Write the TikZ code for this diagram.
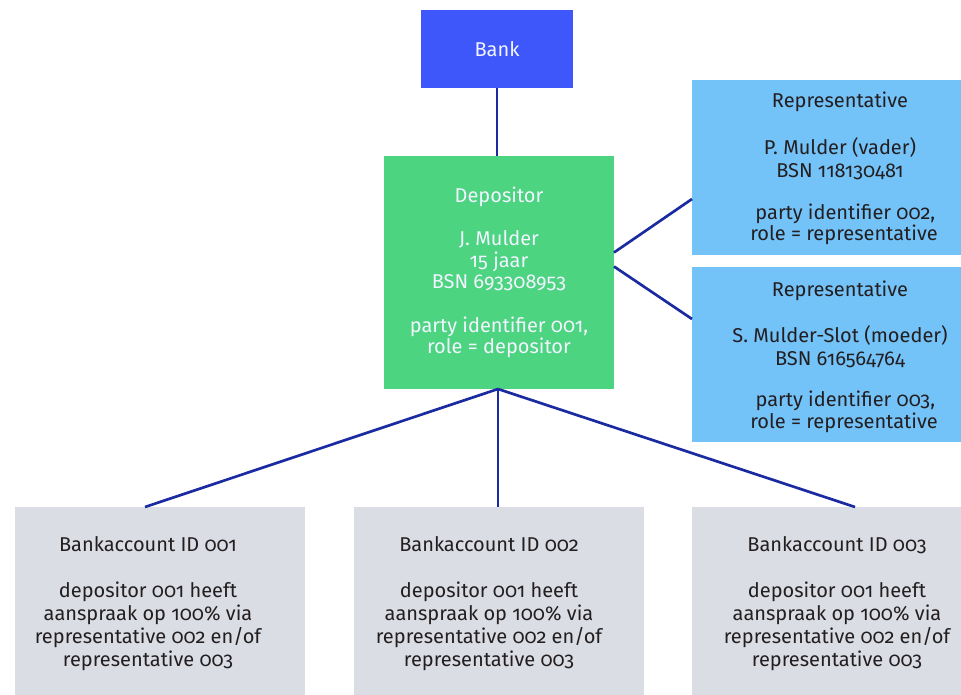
\documentclass[tikz,border=0pt]{standalone}
\usepackage{fontspec}
\setmainfont{Fira Sans}[Numbers=OldStyle]
\usetikzlibrary{calc}
\definecolor{bankblue}{HTML}{3D57FA}
\definecolor{depgreen}{HTML}{4CD480}
\definecolor{repblue}{HTML}{73C2F8}
\definecolor{accgray}{HTML}{DADDE3}
\definecolor{linkblue}{HTML}{1A2AA0}
\definecolor{lighttext}{HTML}{F2F4FF}
\definecolor{darktext}{HTML}{231E20}
\tikzset{
  box/.style={inner sep=0pt, outer sep=0pt},
  txt/.style={inner sep=0pt, align=center, font=\fontsize{15}{16.2}\selectfont},
  acctxt/.style={inner sep=0pt, align=center, font=\fontsize{15}{17.25}\selectfont},
  link/.style={draw=linkblue, line width=2pt},
}
\begin{document}
\begin{tikzpicture}[x=0.75pt,y=-0.75pt]
\useasboundingbox (0,0) rectangle (961,695);
\clip (0,0) rectangle (961,695);
\fill[white] (0,0) rectangle (961,695);
% boxes
\node[box, fill=bankblue, minimum width=114pt, minimum height=58.5pt] (bank) at (497,49) {};
\node[box, fill=depgreen, minimum width=172.5pt, minimum height=174.75pt] (dep) at (499,272.5) {};
\node[box, fill=repblue, minimum width=217.5pt, minimum height=131.25pt] (rep1) at (837,167.5) {};
\node[box, fill=repblue, minimum width=217.5pt, minimum height=131.25pt] (rep2) at (837,354.5) {};
\node[box, fill=accgray, minimum width=217.5pt, minimum height=142.5pt] (acc1) at (160,602) {};
\node[box, fill=accgray, minimum width=217.5pt, minimum height=142.5pt] (acc2) at (499,602) {};
\node[box, fill=accgray, minimum width=217.5pt, minimum height=142.5pt] (acc3) at (837,602) {};
% texts
\node[txt, text=lighttext] (bankt) at (bank.center) {Bank};
\node[txt, text=lighttext] (dept) at (dep.center) {Depositor\\[16.2pt]J. Mulder\\15 jaar\\BSN 693308953\\[16.2pt]party identifier 001,\\role = depositor};
\node[txt, text=darktext] (rep1t) at ($(rep1.center)+(3,1)$) {Representative\\[19pt]P. Mulder (vader)\\[1pt]BSN 118130481\\[15.3pt]\hspace*{8pt}party identifier 002,\\[-0.4pt]\hspace*{6pt}role = representative};
\node[txt, text=darktext] (rep2t) at ($(rep2.center)+(3,2.5)$) {Representative\\[18.3pt]S. Mulder-Slot (moeder)\\[1pt]BSN 616564764\\[14.5pt]\hspace*{8pt}party identifier 003,\\[0.3pt]\hspace*{6pt}role = representative};
\node[acctxt, text=darktext] (acc1t) at ($(acc1.center)+(-12,1.5)$) {Bankaccount ID 001\\[17.25pt]depositor 001 heeft\\aanspraak op 100\% via\\representative 002 en/of\\representative 003};
\node[acctxt, text=darktext] (acc2t) at ($(acc2.center)+(-10,1.5)$) {Bankaccount ID 002\\[17.25pt]depositor 001 heeft\\aanspraak op 100\% via\\representative 002 en/of\\representative 003};
\node[acctxt, text=darktext] (acc3t) at ($(acc3.center)+(0,1.5)$) {Bankaccount ID 003\\[17.25pt]depositor 001 heeft\\aanspraak op 100\% via\\representative 002 en/of\\representative 003};
% connector end points
\coordinate (depR1) at ($(dep.east)+(0,-20)$);
\coordinate (depR2) at ($(dep.east)+(0,-6)$);
\coordinate (rep1L) at ($(rep1.west)+(0,31.5)$);
\coordinate (rep2L) at ($(rep2.west)+(0,-35.5)$);
\coordinate (acc1T) at ($(acc1.north west)+(130,0)$);
\coordinate (acc3T) at ($(acc3.north west)+(163,0)$);
\coordinate (depB) at ($(dep.south)+(-1,0)$);
\coordinate (acc2T) at ($(acc2.north)+(-1,0)$);
% connectors
\draw[link] (bank.south) -- (bank.south |- dep.north);
\draw[link] (depR1) -- (rep1L);
\draw[link] (depR2) -- (rep2L);
\draw[link] (depB) -- (acc1T);
\draw[link] (depB) -- (acc2T);
\draw[link] (depB) -- (acc3T);
\end{tikzpicture}
\end{document}
